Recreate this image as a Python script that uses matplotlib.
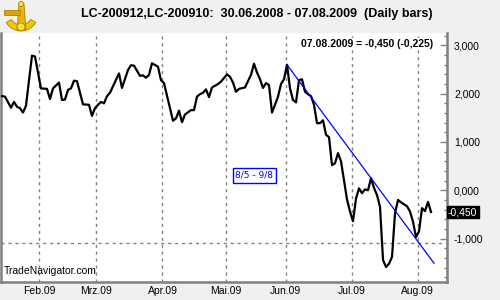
import numpy as np
import matplotlib
matplotlib.use("Agg")
import matplotlib.pyplot as plt
from matplotlib.patches import Rectangle, Wedge, Circle, Polygon

# ---------------- data ----------------
dates = ['2009-01-13', '2009-01-14', '2009-01-16', '2009-01-20', '2009-01-21', '2009-01-22',
         '2009-01-23', '2009-01-26', '2009-01-28', '2009-01-29', '2009-02-02', '2009-02-04',
         '2009-02-05', '2009-02-06', '2009-02-10', '2009-02-11', '2009-02-12', '2009-02-13',
         '2009-02-17', '2009-02-18', '2009-02-19', '2009-02-23', '2009-02-25', '2009-02-26',
         '2009-02-27', '2009-03-02', '2009-03-03', '2009-03-04', '2009-03-05', '2009-03-06',
         '2009-03-11', '2009-03-12', '2009-03-16', '2009-03-17', '2009-03-18', '2009-03-20',
         '2009-03-23', '2009-03-24', '2009-03-25', '2009-03-26', '2009-03-30', '2009-03-31',
         '2009-04-01', '2009-04-06', '2009-04-07', '2009-04-08', '2009-04-09', '2009-04-13',
         '2009-04-15', '2009-04-16', '2009-04-17', '2009-04-20', '2009-04-21', '2009-04-22',
         '2009-04-23', '2009-04-24', '2009-04-28', '2009-04-29', '2009-05-01', '2009-05-04',
         '2009-05-05', '2009-05-06', '2009-05-07', '2009-05-11', '2009-05-13', '2009-05-14',
         '2009-05-15', '2009-05-18', '2009-05-19', '2009-05-20', '2009-05-21', '2009-05-22',
         '2009-05-26', '2009-05-27', '2009-05-28', '2009-05-29', '2009-06-01', '2009-06-02',
         '2009-06-03', '2009-06-04', '2009-06-05', '2009-06-08', '2009-06-09', '2009-06-10',
         '2009-06-11', '2009-06-12', '2009-06-15', '2009-06-16', '2009-06-17', '2009-06-18',
         '2009-06-19', '2009-06-22', '2009-06-23', '2009-06-24', '2009-06-25', '2009-06-29',
         '2009-06-30', '2009-07-01', '2009-07-02', '2009-07-06', '2009-07-07', '2009-07-08',
         '2009-07-09', '2009-07-10', '2009-07-13', '2009-07-14', '2009-07-15', '2009-07-16',
         '2009-07-17', '2009-07-20', '2009-07-21', '2009-07-22', '2009-07-23', '2009-07-24',
         '2009-07-28', '2009-07-29', '2009-07-30', '2009-07-31', '2009-08-03', '2009-08-04',
         '2009-08-05', '2009-08-06', '2009-08-07']
values = [1.95, 1.94, 1.71, 1.83, 1.73, 1.70,
          1.61, 1.75, 2.79, 2.77, 2.11, 2.10,
          1.89, 2.11, 2.23, 1.87, 1.88, 2.08,
          2.11, 2.27, 2.26, 1.78, 1.77, 1.54,
          1.70, 1.77, 1.83, 1.80, 1.95, 2.02,
          2.42, 2.12, 2.49, 2.59, 2.58, 2.37,
          2.38, 2.33, 2.39, 2.63, 2.56, 2.28,
          2.22, 1.44, 1.49, 1.65, 1.41, 1.57,
          1.66, 1.66, 1.94, 1.99, 2.02, 2.09,
          1.93, 2.13, 2.20, 2.25, 2.40, 2.35,
          2.23, 2.04, 2.10, 2.13, 2.39, 2.62,
          2.44, 2.30, 2.12, 2.22, 2.18, 1.61,
          1.77, 1.94, 2.20, 2.30, 2.60, 2.11,
          1.87, 1.82, 2.28, 2.30, 2.04, 1.99,
          1.95, 1.77, 1.39, 1.39, 1.45, 1.15,
          1.10, 0.52, 0.56, 0.77, 0.60, -0.19,
          -0.44, -0.64, -0.17, 0.04, -0.06, 0.02,
          0.00, 0.25, 0.05, -0.10, -0.34, -1.44,
          -1.59, -1.52, -1.38, -0.48, -0.20, -0.25,
          -0.33, -0.44, -0.65, -0.97, -0.85, -0.37,
          -0.43, -0.24, -0.45]

trend_dates = ['2009-06-01', '2009-08-10']
trend_values = [2.60, -1.51]
level_value = -1.09

month_starts = ['2009-02-02', '2009-03-02', '2009-04-01', '2009-05-01',
                '2009-06-01', '2009-07-01', '2009-08-03']
month_labels = ['Feb.09', 'Mrz.09', 'Apr.09', 'Mai.09', 'Jun.09', 'Jul.09', 'Aug.09']
y_ticks = [3.0, 2.0, 1.0, 0.0, -1.0]
last_value = -0.450
change_value = -0.225
last_date_label = '07.08.2009'
title_text = 'LC-200912,LC-200910:  30.06.2008 - 07.08.2009  (Daily bars)'
box_label = '8/5 - 9/8'
holidays = ['2009-01-19', '2009-02-16', '2009-04-10', '2009-05-25', '2009-07-03']
origin = '2009-02-02'

def bar_index(ds):
    return np.busday_count(origin, np.array(ds, dtype='datetime64[D]'), holidays=holidays)

def fmt(v):
    return f"{v:.3f}".replace('.', ',')

# ---------------- figure ----------------
BG = '#f0f0f0'
GRAY = '#808080'
fig = plt.figure(figsize=(5, 3), dpi=100, facecolor=BG)
ax = fig.add_axes([0.002, 0.06, 0.892, 0.83])
ax.set_facecolor('white')

x = bar_index(dates)
ax.plot(x, values, color='black', lw=1.6, solid_joinstyle='round', zorder=3)

tx = bar_index(trend_dates)
ax.plot(tx, trend_values, color='#0000ff', lw=0.9, zorder=4)

mx = bar_index(month_starts) - 0.5
for m in mx:
    ax.axvline(m, color=GRAY, lw=1.0, ls=(0, (2.2, 2.8)), zorder=1)
ax.axhline(level_value, color=GRAY, lw=1.0, ls=(0, (2.2, 2.8)), zorder=1)

ax.set_xlim(-13.33, 135.33)
ax.set_ylim(-1.899, 3.257)

ax.set_xticks(mx)
ax.set_xticklabels(month_labels, fontsize=7.5, family='Liberation Sans')
ax.tick_params(axis='x', length=0, pad=3)

ax.yaxis.tick_right()
ax.set_yticks(y_ticks)
ax.set_yticklabels([fmt(v) for v in y_ticks], fontsize=7.5, family='Liberation Sans')
ax.set_yticks(np.arange(-1.8, 3.25, 0.2), minor=True)
ax.tick_params(axis='y', which='major', direction='in', length=5, width=1, color=GRAY, pad=5)
ax.tick_params(axis='y', which='minor', direction='in', length=2.5, width=1, color=GRAY)

for s in ['left', 'bottom', 'right']:
    ax.spines[s].set_color(GRAY)
    ax.spines[s].set_linewidth(1.8)
ax.spines['top'].set_visible(False)

# current value label
ax.text(1.002, last_value, fmt(last_value), transform=ax.get_yaxis_transform(),
        ha='left', va='center', color='white', fontsize=7.5, family='Liberation Sans',
        bbox=dict(boxstyle='square,pad=0.12', fc='black', ec='black'), zorder=6, clip_on=False)

# top info
ax.text(0.97, 0.975, f"{last_date_label} = {fmt(last_value)} ({fmt(change_value)})",
        transform=ax.transAxes, ha='right', va='top', fontsize=7.5, fontweight='bold',
        family='Liberation Sans', color='black',
        bbox=dict(boxstyle='square,pad=0.1', fc='white', ec='none'), zorder=5)

# blue box label
ax.text(0.568, 0.428, box_label, transform=ax.transAxes, ha='center', va='center',
        fontsize=6.5, color='#0000ff', family='DejaVu Sans',
        bbox=dict(boxstyle='square,pad=0.3', fc='white', ec='#0000ff', lw=1.0), zorder=5)

# watermark
ax.text(0.006, 0.025, 'TradeNavigator.com', transform=ax.transAxes, ha='left', va='bottom',
        fontsize=7.5, family='Liberation Sans', color='black', zorder=5)

# title
fig.text(0.162, 1 - 13.5 / 300, title_text, ha='left', va='center', fontsize=9,
         fontweight='bold', family='Liberation Sans', color='black')

# simple sextant-like icon (pixel coords: x 0..40, y 0..34 from top)
icon = fig.add_axes([0.0, 0.887, 0.08, 0.113])
icon.set_xlim(0, 40); icon.set_ylim(34, 0); icon.axis('off')
GOLD, DARK = '#f0c800', '#b08000'
icon.add_patch(Wedge((21, 14), 17, 30, 150, width=6, fc=GOLD, ec=DARK, lw=0.6))
icon.add_patch(Polygon([[19, 4], [24, 4], [26, 30], [17, 30]], closed=True, fc='#e8b800', ec=DARK, lw=0.6))
icon.add_patch(Rectangle((4, 10), 16, 5, fc='#d8a800', ec=DARK, lw=0.6))
icon.add_patch(Circle((21, 4), 2.5, fc='#f8e040', ec=DARK, lw=0.6))
icon.add_patch(Circle((21, 27), 4, fc='#f8e040', ec=DARK, lw=0.6))

fig.savefig('out.png', dpi=100, facecolor=BG)
